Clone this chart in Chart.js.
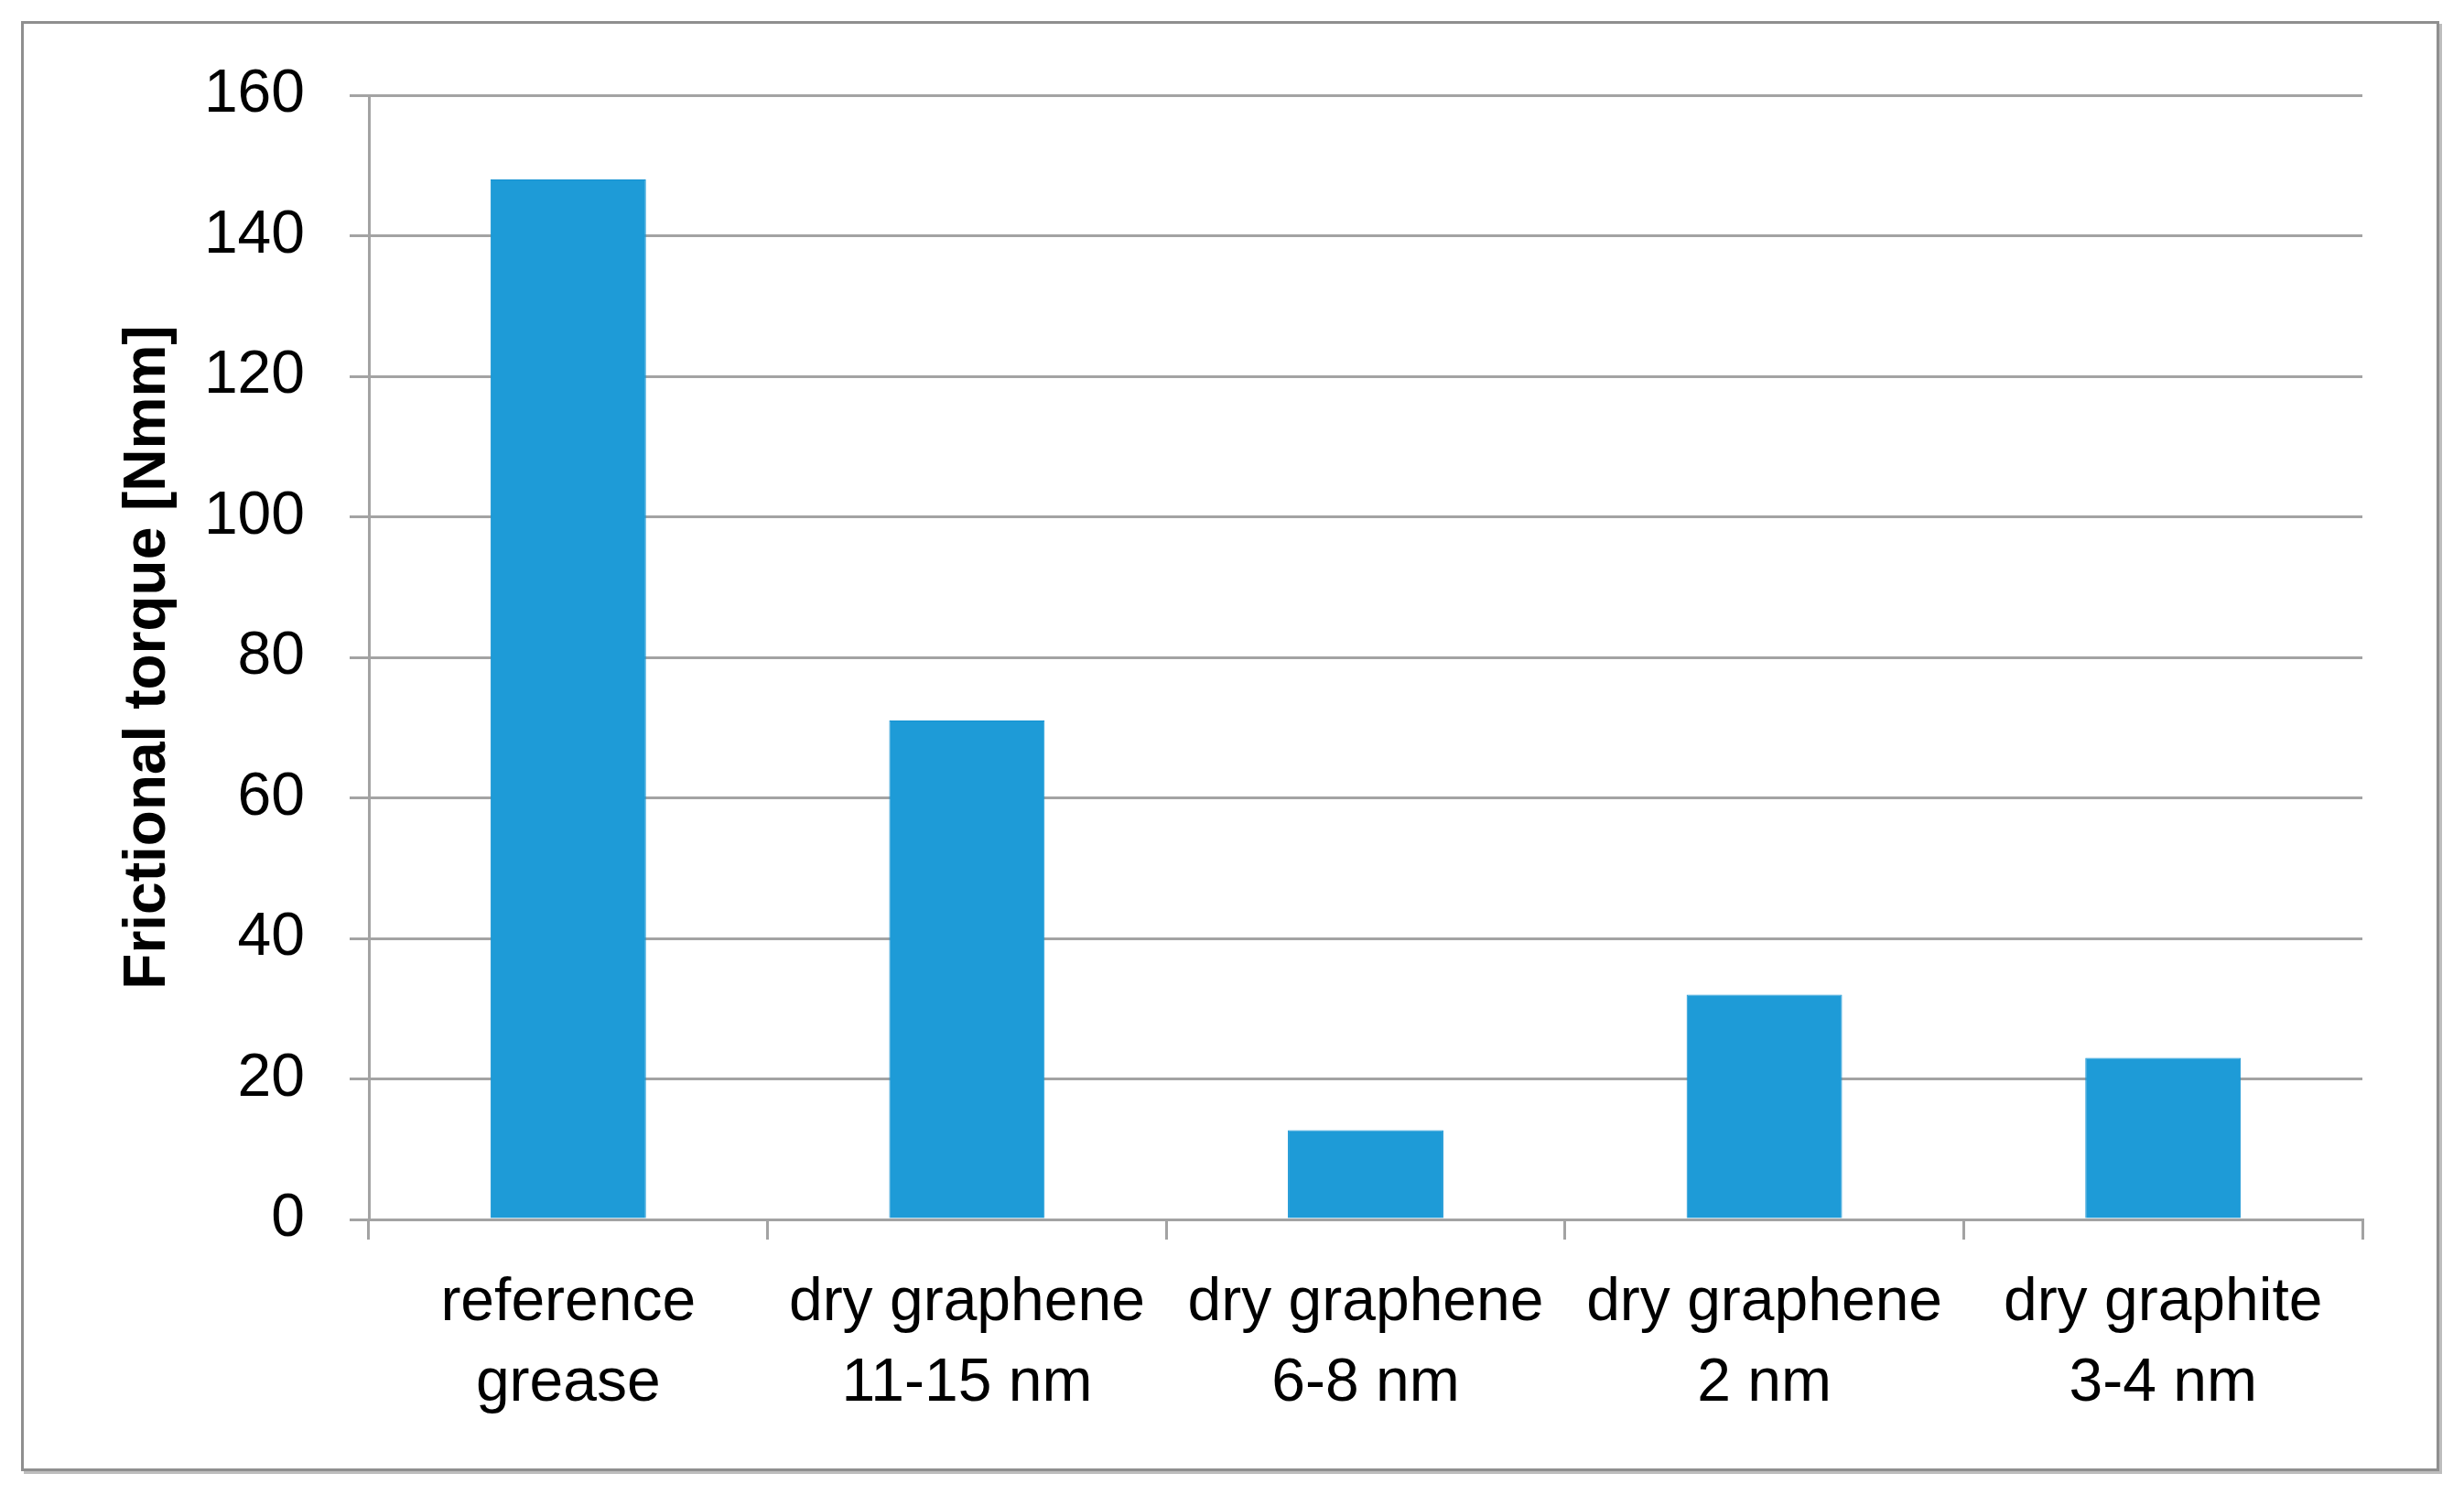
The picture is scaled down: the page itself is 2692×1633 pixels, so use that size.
<!DOCTYPE html>
<html>
<head>
<meta charset="utf-8">
<script src="https://cdn.jsdelivr.net/npm/chart.js@4.4.1/dist/chart.umd.min.js"></script>
<style>
    html, body { margin: 0; padding: 0; background: #ffffff; }
    #wrap { position: relative; width: 2692px; height: 1633px; }
    #frame {
        position: absolute; left: 23px; top: 23px; width: 2636px; height: 1578px;
        border: 3px solid #8f8f8f; box-shadow: 3px 3px 0 #bdbdbd; pointer-events: none;
    }
    canvas { position: absolute; left: 0; top: 0; }
</style>
</head>
<body>
<div id="wrap">
    <canvas id="torqueChart" width="2692" height="1633"></canvas>
    <div id="frame"></div>
</div>
<script>
// categories (two-line labels) and measured frictional torque
const categories = [
    ['reference', 'grease'],
    ['dry graphene', '11-15 nm'],
    ['dry graphene', '6-8 nm'],
    ['dry graphene', '2 nm'],
    ['dry graphite', '3-4 nm']
];
const torqueValues = [148, 71, 12.7, 32, 23];
const yTicks = [0, 20, 40, 60, 80, 100, 120, 140, 160];

const FONT = "'Liberation Sans', Arial, sans-serif";
const GRID = '#a3a3a3';

const ctx = document.getElementById('torqueChart').getContext('2d');
new Chart(ctx, {
    type: 'bar',
    data: {
        labels: categories,
        datasets: [{
            label: 'Frictional torque',
            data: torqueValues,
            backgroundColor: '#1e9bd7',
            borderColor: '#1593d3',
            borderWidth: 1,
            categoryPercentage: 1.0,
            barPercentage: 0.39
        }]
    },
    options: {
        responsive: false,
        animation: false,
        devicePixelRatio: 1,
        layout: { padding: { left: 80, right: 111, top: 104, bottom: 40 } },
        plugins: {
            legend: { display: false },
            tooltip: { enabled: false }
        },
        scales: {
            x: {
                offset: true,
                grid: {
                    offset: true,
                    drawOnChartArea: false,
                    drawTicks: true,
                    tickLength: 22,
                    color: GRID,
                    lineWidth: 3
                },
                border: { display: true, color: GRID, width: 3 },
                ticks: {
                    color: '#000000',
                    padding: 26,
                    maxRotation: 0,
                    autoSkip: false,
                    font: { family: FONT, size: 66, lineHeight: 1.333 }
                },
                afterFit: (scale) => { scale.height = 1633 - 1332 - 40; }
            },
            y: {
                min: 0,
                max: 160,
                afterBuildTicks: (scale) => { scale.ticks = yTicks.map(v => ({ value: v })); },
                grid: {
                    color: GRID,
                    lineWidth: 3,
                    drawTicks: true,
                    tickLength: 21
                },
                border: { display: true, color: GRID, width: 3 },
                ticks: {
                    color: '#000000',
                    padding: 49,
                    font: { family: FONT, size: 66 }
                },
                title: {
                    display: true,
                    text: 'Frictional torque [Nmm]',
                    color: '#000000',
                    padding: { top: 44, bottom: 0 },
                    font: { family: FONT, size: 64, weight: 'bold', lineHeight: 1.2 }
                },
                afterFit: (scale) => { scale.width = 403 - 80; }
            }
        }
    }
});
</script>
</body>
</html>
